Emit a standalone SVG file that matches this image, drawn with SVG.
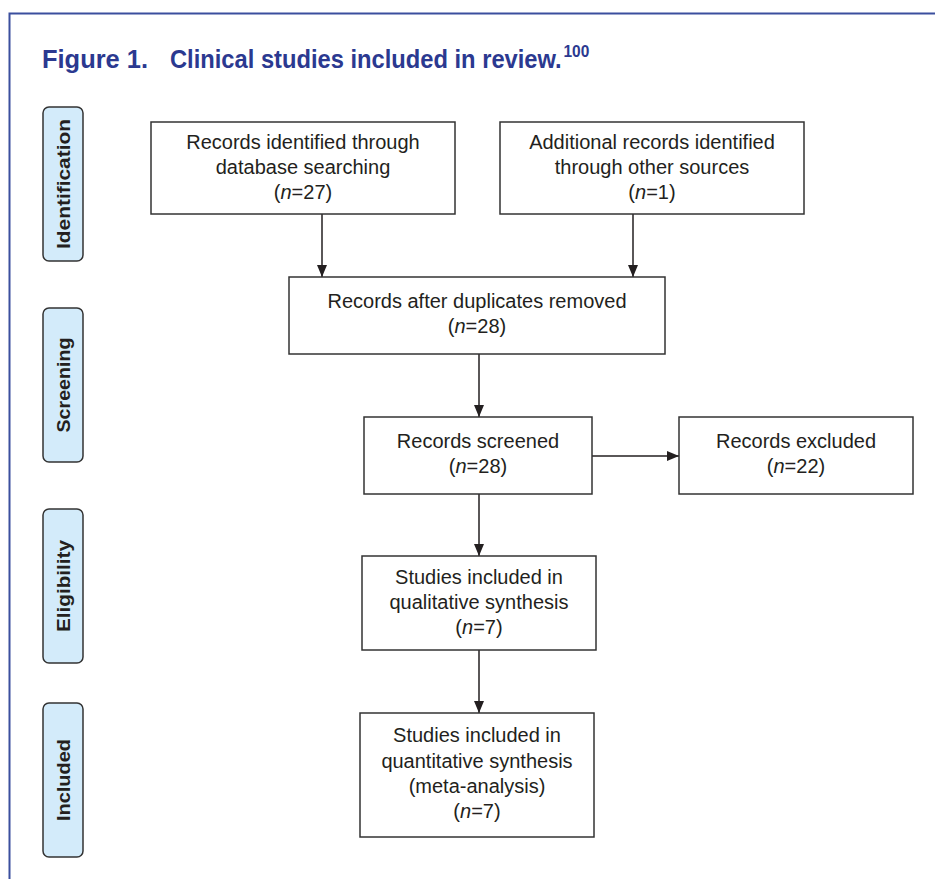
<svg xmlns="http://www.w3.org/2000/svg" width="935" height="879" viewBox="0 0 935 879">
<defs>
<style>
.frame{fill:none;stroke:#3b4f9e;stroke-width:2}
.title{font-family:"Liberation Sans",Arial,sans-serif;font-weight:bold;fill:#2b3990}
.box{fill:#fff;stroke:#333;stroke-width:1.5}
.stage{fill:#d3ebfa;stroke:#333;stroke-width:1.5}
.stxt{font-family:"Liberation Sans",Arial,sans-serif;font-weight:bold;font-size:19px;fill:#231f20;text-anchor:middle}
.t{font-family:"Liberation Sans",Arial,sans-serif;font-size:20px;fill:#231f20;text-anchor:middle}
.i{font-style:italic}
.conn line{stroke:#231f20;stroke-width:1.5;fill:none}
</style>
<marker id="ah" viewBox="0 0 12 10" refX="12" refY="5" markerWidth="12" markerHeight="10" markerUnits="userSpaceOnUse" orient="auto">
<path d="M0,0 L12,5 L0,10 Z" fill="#231f20"/>
</marker>
</defs>
<rect width="935" height="879" fill="#fff"/>
<path class="frame" d="M9.5,879 V13.5 H935"/>
<text class="title" x="42" y="68" font-size="26" textLength="106" lengthAdjust="spacingAndGlyphs">Figure 1.</text>
<text class="title" transform="translate(170,68) scale(0.912,1)" x="0" y="0" font-size="26">Clinical studies included in review.<tspan dx="2" dy="-11" font-size="17">100</tspan></text>

<g id="stage-identification"><rect class="stage" x="43" y="107" width="40" height="154" rx="6"/><text class="stxt" transform="translate(70,184) rotate(-90)" textLength="130" lengthAdjust="spacingAndGlyphs">Identification</text></g>
<g id="stage-screening"><rect class="stage" x="43" y="308" width="40" height="154" rx="6"/><text class="stxt" transform="translate(70,385) rotate(-90)" textLength="95" lengthAdjust="spacingAndGlyphs">Screening</text></g>
<g id="stage-eligibility"><rect class="stage" x="43" y="509" width="40" height="154" rx="6"/><text class="stxt" transform="translate(70,586) rotate(-90)" textLength="92" lengthAdjust="spacingAndGlyphs">Eligibility</text></g>
<g id="stage-included"><rect class="stage" x="43" y="703" width="40" height="154" rx="6"/><text class="stxt" transform="translate(70,780) rotate(-90)" textLength="82" lengthAdjust="spacingAndGlyphs">Included</text></g>

<g id="conn" class="conn">
<line x1="322" y1="214" x2="322" y2="277" marker-end="url(#ah)"/>
<line x1="633" y1="214" x2="633" y2="277" marker-end="url(#ah)"/>
<line x1="479" y1="354" x2="479" y2="417" marker-end="url(#ah)"/>
<line x1="592" y1="456" x2="679" y2="456" marker-end="url(#ah)"/>
<line x1="479" y1="494" x2="479" y2="556" marker-end="url(#ah)"/>
<line x1="479" y1="650" x2="479" y2="713" marker-end="url(#ah)"/>
</g>

<g id="n1"><rect class="box" x="151" y="122" width="304" height="92"/>
<text class="t" x="303" y="149">Records identified through</text>
<text class="t" x="303" y="174">database searching</text>
<text class="t" x="303" y="199">(<tspan class="i">n</tspan>=27)</text></g>
<g id="n2"><rect class="box" x="500" y="122" width="304" height="92"/>
<text class="t" x="652" y="149">Additional records identified</text>
<text class="t" x="652" y="174">through other sources</text>
<text class="t" x="652" y="199">(<tspan class="i">n</tspan>=1)</text></g>
<g id="n3"><rect class="box" x="289" y="277" width="376" height="77"/>
<text class="t" x="477" y="308">Records after duplicates removed</text>
<text class="t" x="477" y="333">(<tspan class="i">n</tspan>=28)</text></g>
<g id="n4"><rect class="box" x="364" y="417" width="228" height="77"/>
<text class="t" x="478" y="448">Records screened</text>
<text class="t" x="478" y="473">(<tspan class="i">n</tspan>=28)</text></g>
<g id="n5"><rect class="box" x="679" y="417" width="234" height="77"/>
<text class="t" x="796" y="448">Records excluded</text>
<text class="t" x="796" y="473">(<tspan class="i">n</tspan>=22)</text></g>
<g id="n6"><rect class="box" x="362" y="556" width="234" height="94"/>
<text class="t" x="479" y="584">Studies included in</text>
<text class="t" x="479" y="609">qualitative synthesis</text>
<text class="t" x="479" y="634">(<tspan class="i">n</tspan>=7)</text></g>
<g id="n7"><rect class="box" x="360" y="713" width="234" height="124"/>
<text class="t" x="477" y="742">Studies included in</text>
<text class="t" x="477" y="768">quantitative synthesis</text>
<text class="t" x="477" y="793">(meta-analysis)</text>
<text class="t" x="477" y="818">(<tspan class="i">n</tspan>=7)</text></g>
</svg>
